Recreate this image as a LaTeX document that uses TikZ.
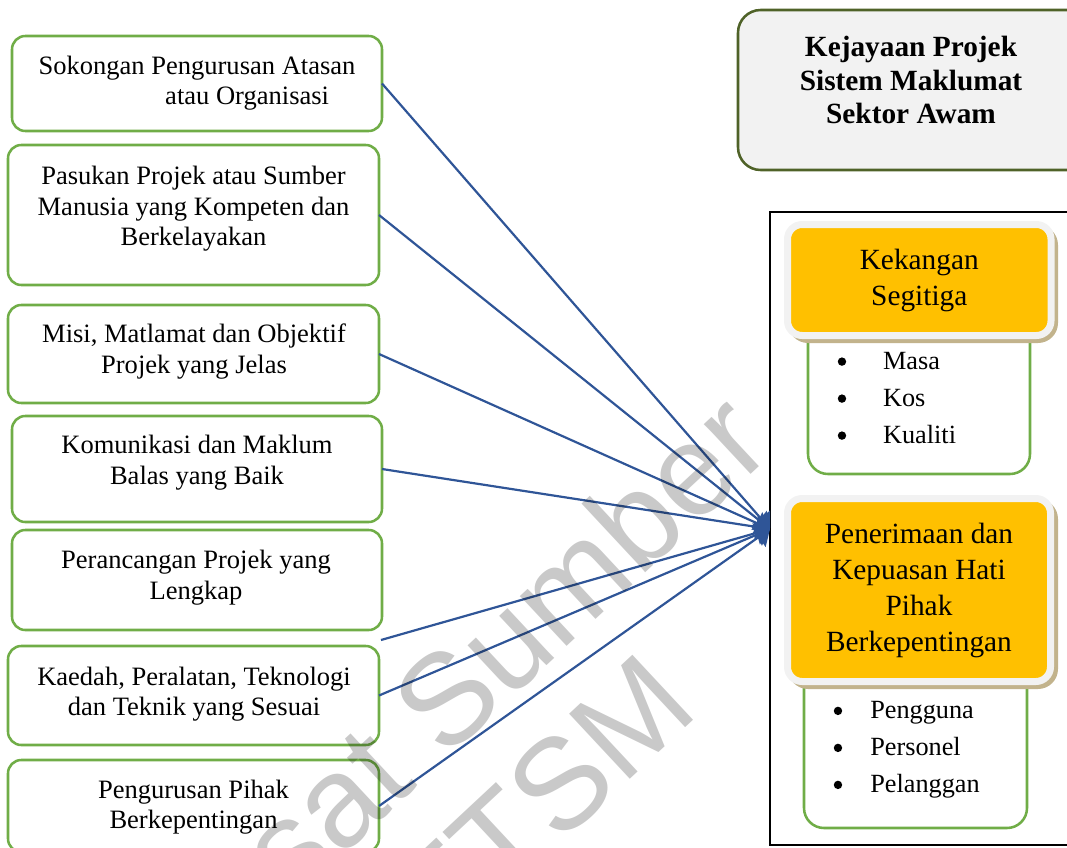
\documentclass[tikz,border=0pt]{standalone}
\usepackage{fontspec}
\setmainfont{Liberation Serif}
\newfontfamily\wmfont{Liberation Sans}
\usetikzlibrary{arrows.meta}
\definecolor{lgreen}{HTML}{70AD47}
\definecolor{dgreen}{HTML}{4F6228}
\definecolor{ltgray}{HTML}{F2F2F2}
\definecolor{orng}{HTML}{FFC000}
\definecolor{shtan}{HTML}{C2B38C}
\definecolor{arrblue}{HTML}{2F5597}
\newcommand\bdot{\tikz[baseline=0pt]\fill[black] (0,0.3em) circle (0.16em);}
\begin{document}
\begin{tikzpicture}[x=0.75pt,y=-0.75pt,
  sz/.style 2 args={minimum width=#1*0.75pt, minimum height=#2*0.75pt},
  lbox/.style={draw=lgreen, line width=1.9pt, rounded corners=10pt, inner sep=0pt, outer sep=0pt},
  ltext/.style={align=center, font=\fontsize{19.9}{22.9}\selectfont, inner sep=0pt},
  tbox/.style={draw=dgreen, fill=ltgray, line width=1.9pt, rounded corners=17pt, inner sep=0pt, outer sep=0pt},
  ttext/.style={align=center, font=\bfseries\fontsize{22}{25}\selectfont, inner sep=0pt},
  obox/.style={fill=orng, draw=ltgray, line width=5.25pt, rounded corners=11pt, align=center,
    font=\fontsize{22}{27}\selectfont, inner sep=0pt, outer sep=0pt},
  gbox/.style={draw=lgreen, fill=white, line width=1.9pt, rounded corners=15pt, inner sep=0pt, outer sep=0pt},
  btext/.style={align=left, font=\fontsize{19.7}{27.75}\selectfont, inner sep=0pt, anchor=west},
  conn/.style={draw=arrblue, line width=1.65pt, -{Triangle[length=10.5pt,width=18pt]}},
  wm/.style={font=\wmfont\fontsize{97}{105}\selectfont, align=center, text=black, text opacity=0.21, inner sep=0pt}
]
\useasboundingbox (0,0) rectangle (1067,847);
\clip (0,0) rectangle (1067,847);

% left boxes
\node[lbox, sz={370}{95}] (b1) at (197,83.5) {};
\node[ltext, align=left] (t1) at (197,83) {Sokongan Pengurusan Atasan\\\hspace*{95pt}atau Organisasi};
\node[lbox, sz={371}{140}] (b2) at (193.5,215) {};
\node[ltext] (t2) at (193.5,209) {Pasukan Projek atau Sumber\\Manusia yang Kompeten dan\\Berkelayakan};
\node[lbox, sz={371}{98}] (b3) at (193.5,354) {};
\node[ltext] (t3) at (194,351.5) {Misi, Matlamat dan Objektif\\Projek yang Jelas};
\node[lbox, sz={370}{106}] (b4) at (197,469) {};
\node[ltext] (t4) at (197,462.5) {Komunikasi dan Maklum\\Balas yang Baik};
\node[lbox, sz={370}{100}] (b5) at (197,580) {};
\node[ltext] (t5) at (196,577.5) {Perancangan Projek yang\\Lengkap};
\node[lbox, sz={371}{99}] (b6) at (193.5,695.5) {};
\node[ltext] (t6) at (194,694) {Kaedah, Peralatan, Teknologi\\dan Teknik yang Sesuai};
\node[lbox, sz={371}{92}] (b7) at (193.5,806) {};
\node[ltext] (t7) at (193.5,807) {Pengurusan Pihak\\Berkepentingan};

% title
\node[tbox, sz={352}{160}] (ttl) at (914,90) {};
\node[ttext] (ttlt) at (911,80) {Kejayaan Projek\\Sistem Maklumat\\Sektor Awam};

% right frame
\draw[line width=1.5pt] (770,212) rectangle (1090,845);

% group 1
\node[gbox, sz={222}{154}] (g1) at (919,397) {};
\fill[shtan, rounded corners=15pt] (788,225) rectangle (1058,343);
\node[obox, sz={263.5}{111}] (k1) at (919.25,280) {Kekangan\\Segitiga};
\node[btext] (l1) at (837.5,398) {\makebox[34pt][l]{\bdot}Masa\\\makebox[34pt][l]{\bdot}Kos\\\makebox[34pt][l]{\bdot}Kualiti};

% group 2
\node[gbox, sz={223}{168}] (g2) at (915.5,744) {};
\fill[shtan, rounded corners=15pt] (788,499) rectangle (1058,689);
\node[obox, sz={263}{183}] (k2) at (919,590) {Penerimaan dan\\Kepuasan Hati\\Pihak\\Berkepentingan};
\node[btext] (l2) at (833.5,750) {\makebox[27.4pt][l]{\bdot}Pengguna\\\makebox[27.4pt][l]{\bdot}Personel\\\makebox[27.4pt][l]{\bdot}Pelanggan};

% connectors
\coordinate (tip) at (770,529);
\coordinate (free) at (381,640);
\foreach \s in {b1,b2,b3,b4,b6,b7} \draw[conn] (\s.east) -- (tip);
\draw[conn] (free) -- (tip);

% watermark
\node[wm, rotate=43] (wm) at (493,748) {Pusat Sumber\\FTSM};
\end{tikzpicture}
\end{document}
